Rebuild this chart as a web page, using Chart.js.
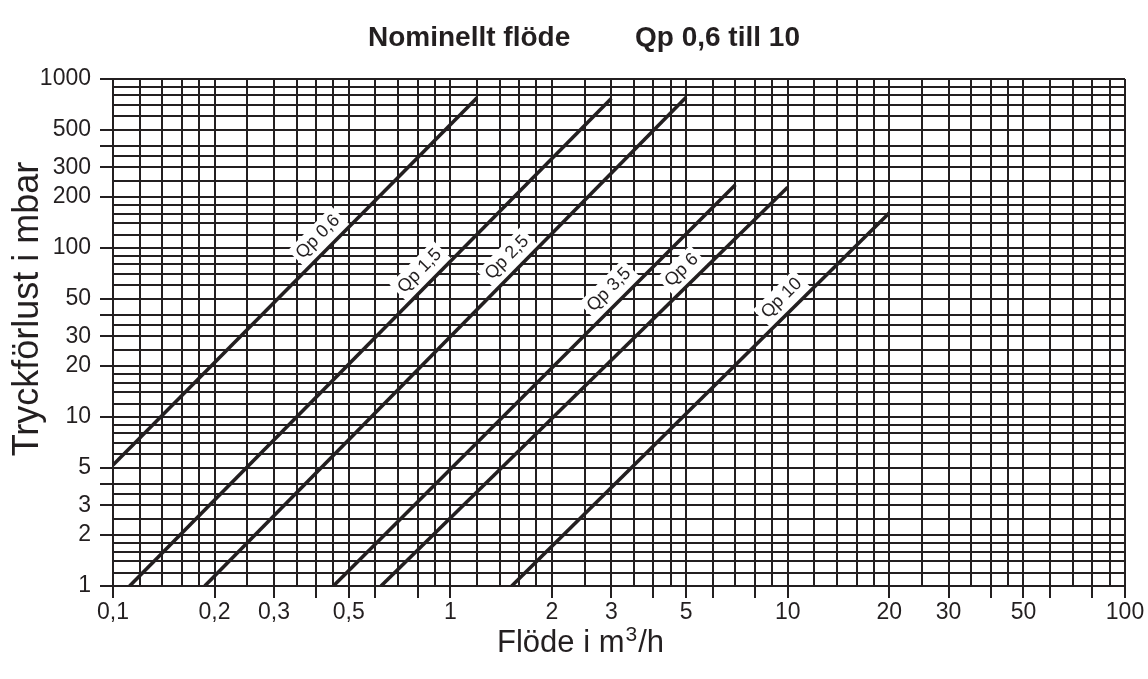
<!DOCTYPE html>
<html>
<head>
<meta charset="utf-8">
<script src="https://cdn.jsdelivr.net/npm/chart.js@4.4.0/dist/chart.umd.min.js"></script>
<style>
html,body{margin:0;padding:0;background:#fff;}
#wrap{width:1148px;height:679px;position:relative;}
</style>
</head>
<body>
<div id="wrap"><canvas id="c" width="1148" height="679"></canvas></div>
<script>
// ---- data ----
const seriesNames = ['Qp 0,6', 'Qp 1,5', 'Qp 2,5', 'Qp 3,5', 'Qp 6', 'Qp 10'];
const flowStart   = [0.1, 0.112, 0.187, 0.45, 0.623, 1.52];   // m3/h
const lossStart   = [5.2, 1, 1, 1, 1, 1];                     // mbar
const flowEnd     = [1.2, 3.0, 5.0, 7.0, 10, 20];
const lossEnd     = [775, 767, 781, 237, 229, 161];
const labelFlow   = [0.436, 0.873, 1.585, 3.175, 5.21, 10.31]; // where each curve label sits

const xGridValues = [0.1,0.12,0.14,0.16,0.18,0.2,0.25,0.3,0.35,0.4,0.45,0.5,0.6,0.7,0.8,0.9,
                     1,1.2,1.4,1.6,1.8,2,2.5,3,3.5,4,4.5,5,6,7,8,9,
                     10,12,14,16,18,20,25,30,35,40,45,50,60,70,80,90,100];
const yGridValues = [1,1.2,1.4,1.6,1.8,2,2.5,3,3.5,4,5,6,7,8,9,
                     10,12,14,16,18,20,25,30,35,40,50,60,70,80,90,
                     100,120,140,160,180,200,250,300,350,400,500,600,700,800,900,1000];
const xTickMarks  = [0.1,0.2,0.3,0.4,0.5,0.6,0.8,1,2,3,4,5,6,8,10,20,30,40,50,60,80,100];
const yTickMarks  = [1,2,3,4,5,10,20,30,40,50,100,200,300,400,500,1000];
const xLabelValues = [0.1,0.2,0.3,0.5,1,2,3,5,10,20,30,50,100];
const xLabelTexts  = ['0,1','0,2','0,3','0,5','1','2','3','5','10','20','30','50','100'];
const yLabelValues = [1,2,3,5,10,20,30,50,100,200,300,500,1000];
const yLabelTexts  = ['1','2','3','5','10','20','30','50','100','200','300','500','1000'];

const titleLeft  = 'Nominellt flöde';
const titleRight = 'Qp 0,6 till 10';
const yTitle = 'Tryckförlust i mbar';
const xTitleParts = ['Flöde i m', '3', '/h'];

// ---- drawing ----
const ink = '#231f20';
const FONT = '"Liberation Sans", Arial, Helvetica, sans-serif';
const near = (a, b) => Math.abs(a / b - 1) < 1e-6;
const inList = (v, list) => list.some(t => near(v, t));
const labelFor = (v, vals, texts) => { const i = vals.findIndex(t => near(v, t)); return i >= 0 ? texts[i] : ''; };

const datasets = seriesNames.map((n, i) => ({
  label: n,
  data: [{x: flowStart[i], y: lossStart[i]}, {x: flowEnd[i], y: lossEnd[i]}],
  showLine: true,
  borderColor: ink,
  backgroundColor: ink,
  borderWidth: 3.6,
  borderCapStyle: 'butt',
  pointRadius: 0,
  pointHoverRadius: 0,
  fill: false,
  tension: 0
}));

const textPlugin = {
  id: 'texts',
  beforeDatasetsDraw(chart) {
    const ctx = chart.ctx, xs = chart.scales.x, ys = chart.scales.y;
    ctx.save();
    ctx.font = '18px ' + FONT;
    seriesNames.forEach((name, i) => {
      const lx0 = Math.log(flowStart[i]), lx1 = Math.log(flowEnd[i]);
      const ly0 = Math.log(lossStart[i]), ly1 = Math.log(lossEnd[i]);
      const t = (Math.log(labelFlow[i]) - lx0) / (lx1 - lx0);
      const yv = Math.exp(ly0 + t * (ly1 - ly0));
      const px = xs.getPixelForValue(labelFlow[i]), py = ys.getPixelForValue(yv);
      const ang = Math.atan2(ys.getPixelForValue(lossEnd[i]) - ys.getPixelForValue(lossStart[i]),
                             xs.getPixelForValue(flowEnd[i]) - xs.getPixelForValue(flowStart[i]));
      const w = ctx.measureText(name).width;
      const off = 15;
      ctx.save();
      ctx.translate(px, py);
      ctx.rotate(ang);
      ctx.fillStyle = '#fff';
      ctx.fillRect(-w / 2 - 4, -off - 12, w + 8, off + 12);
      ctx.fillStyle = ink;
      ctx.textAlign = 'center';
      ctx.textBaseline = 'middle';
      ctx.fillText(name, 0, -off);
      ctx.restore();
    });
    ctx.restore();
  },
  afterDraw(chart) {
    const ctx = chart.ctx;
    ctx.save();
    ctx.fillStyle = ink;
    ctx.textBaseline = 'alphabetic';
    // main title
    ctx.font = 'bold 28px ' + FONT;
    ctx.textAlign = 'left';
    ctx.fillText(titleLeft, 368, 46);
    ctx.fillText(titleRight, 635, 46);
    // y axis title
    ctx.save();
    ctx.translate(38, 309);
    ctx.rotate(-Math.PI / 2);
    ctx.font = '36px ' + FONT;
    ctx.textAlign = 'center';
    ctx.fillText(yTitle, 0, 0);
    ctx.restore();
    // x axis title with superscript
    let x = 497;
    const base = 652;
    ctx.font = '31px ' + FONT;
    ctx.fillText(xTitleParts[0], x, base);
    x += ctx.measureText(xTitleParts[0]).width + 1;
    ctx.font = '21px ' + FONT;
    ctx.fillText(xTitleParts[1], x, base - 11);
    x += ctx.measureText(xTitleParts[1]).width + 1;
    ctx.font = '31px ' + FONT;
    ctx.fillText(xTitleParts[2], x, base);
    ctx.restore();
  }
};

new Chart(document.getElementById('c'), {
  type: 'scatter',
  data: { datasets },
  options: {
    responsive: false,
    animation: false,
    events: [],
    layout: { padding: { top: 79, right: 23, bottom: 0, left: 0 } },
    plugins: { legend: { display: false }, title: { display: false }, tooltip: { enabled: false } },
    scales: {
      x: {
        type: 'logarithmic',
        min: 0.1, max: 100,
        afterBuildTicks: s => { s.ticks = xGridValues.map(v => ({ value: v })); },
        afterFit: s => { s.height = 93; },
        ticks: {
          autoSkip: false, maxRotation: 0, minRotation: 0, padding: 1,
          color: ink, font: { family: FONT, size: 23 },
          callback: v => labelFor(v, xLabelValues, xLabelTexts)
        },
        grid: {
          color: ink, lineWidth: 2, tickLength: 12, tickWidth: 2,
          tickColor: c => (c.tick && inList(c.tick.value, xTickMarks)) ? ink : 'rgba(0,0,0,0)'
        },
        border: { color: ink, width: 2 }
      },
      y: {
        type: 'logarithmic',
        min: 1, max: 1000,
        afterBuildTicks: s => { s.ticks = yGridValues.map(v => ({ value: v })); },
        afterFit: s => { s.width = 113; },
        ticks: {
          autoSkip: false, padding: 9,
          color: ink, font: { family: FONT, size: 23 },
          callback: v => labelFor(v, yLabelValues, yLabelTexts)
        },
        grid: {
          color: ink, lineWidth: 2, tickLength: 13, tickWidth: 2,
          tickColor: c => (c.tick && inList(c.tick.value, yTickMarks)) ? ink : 'rgba(0,0,0,0)'
        },
        border: { color: ink, width: 2 }
      }
    }
  },
  plugins: [textPlugin]
});
</script>
</body>
</html>
